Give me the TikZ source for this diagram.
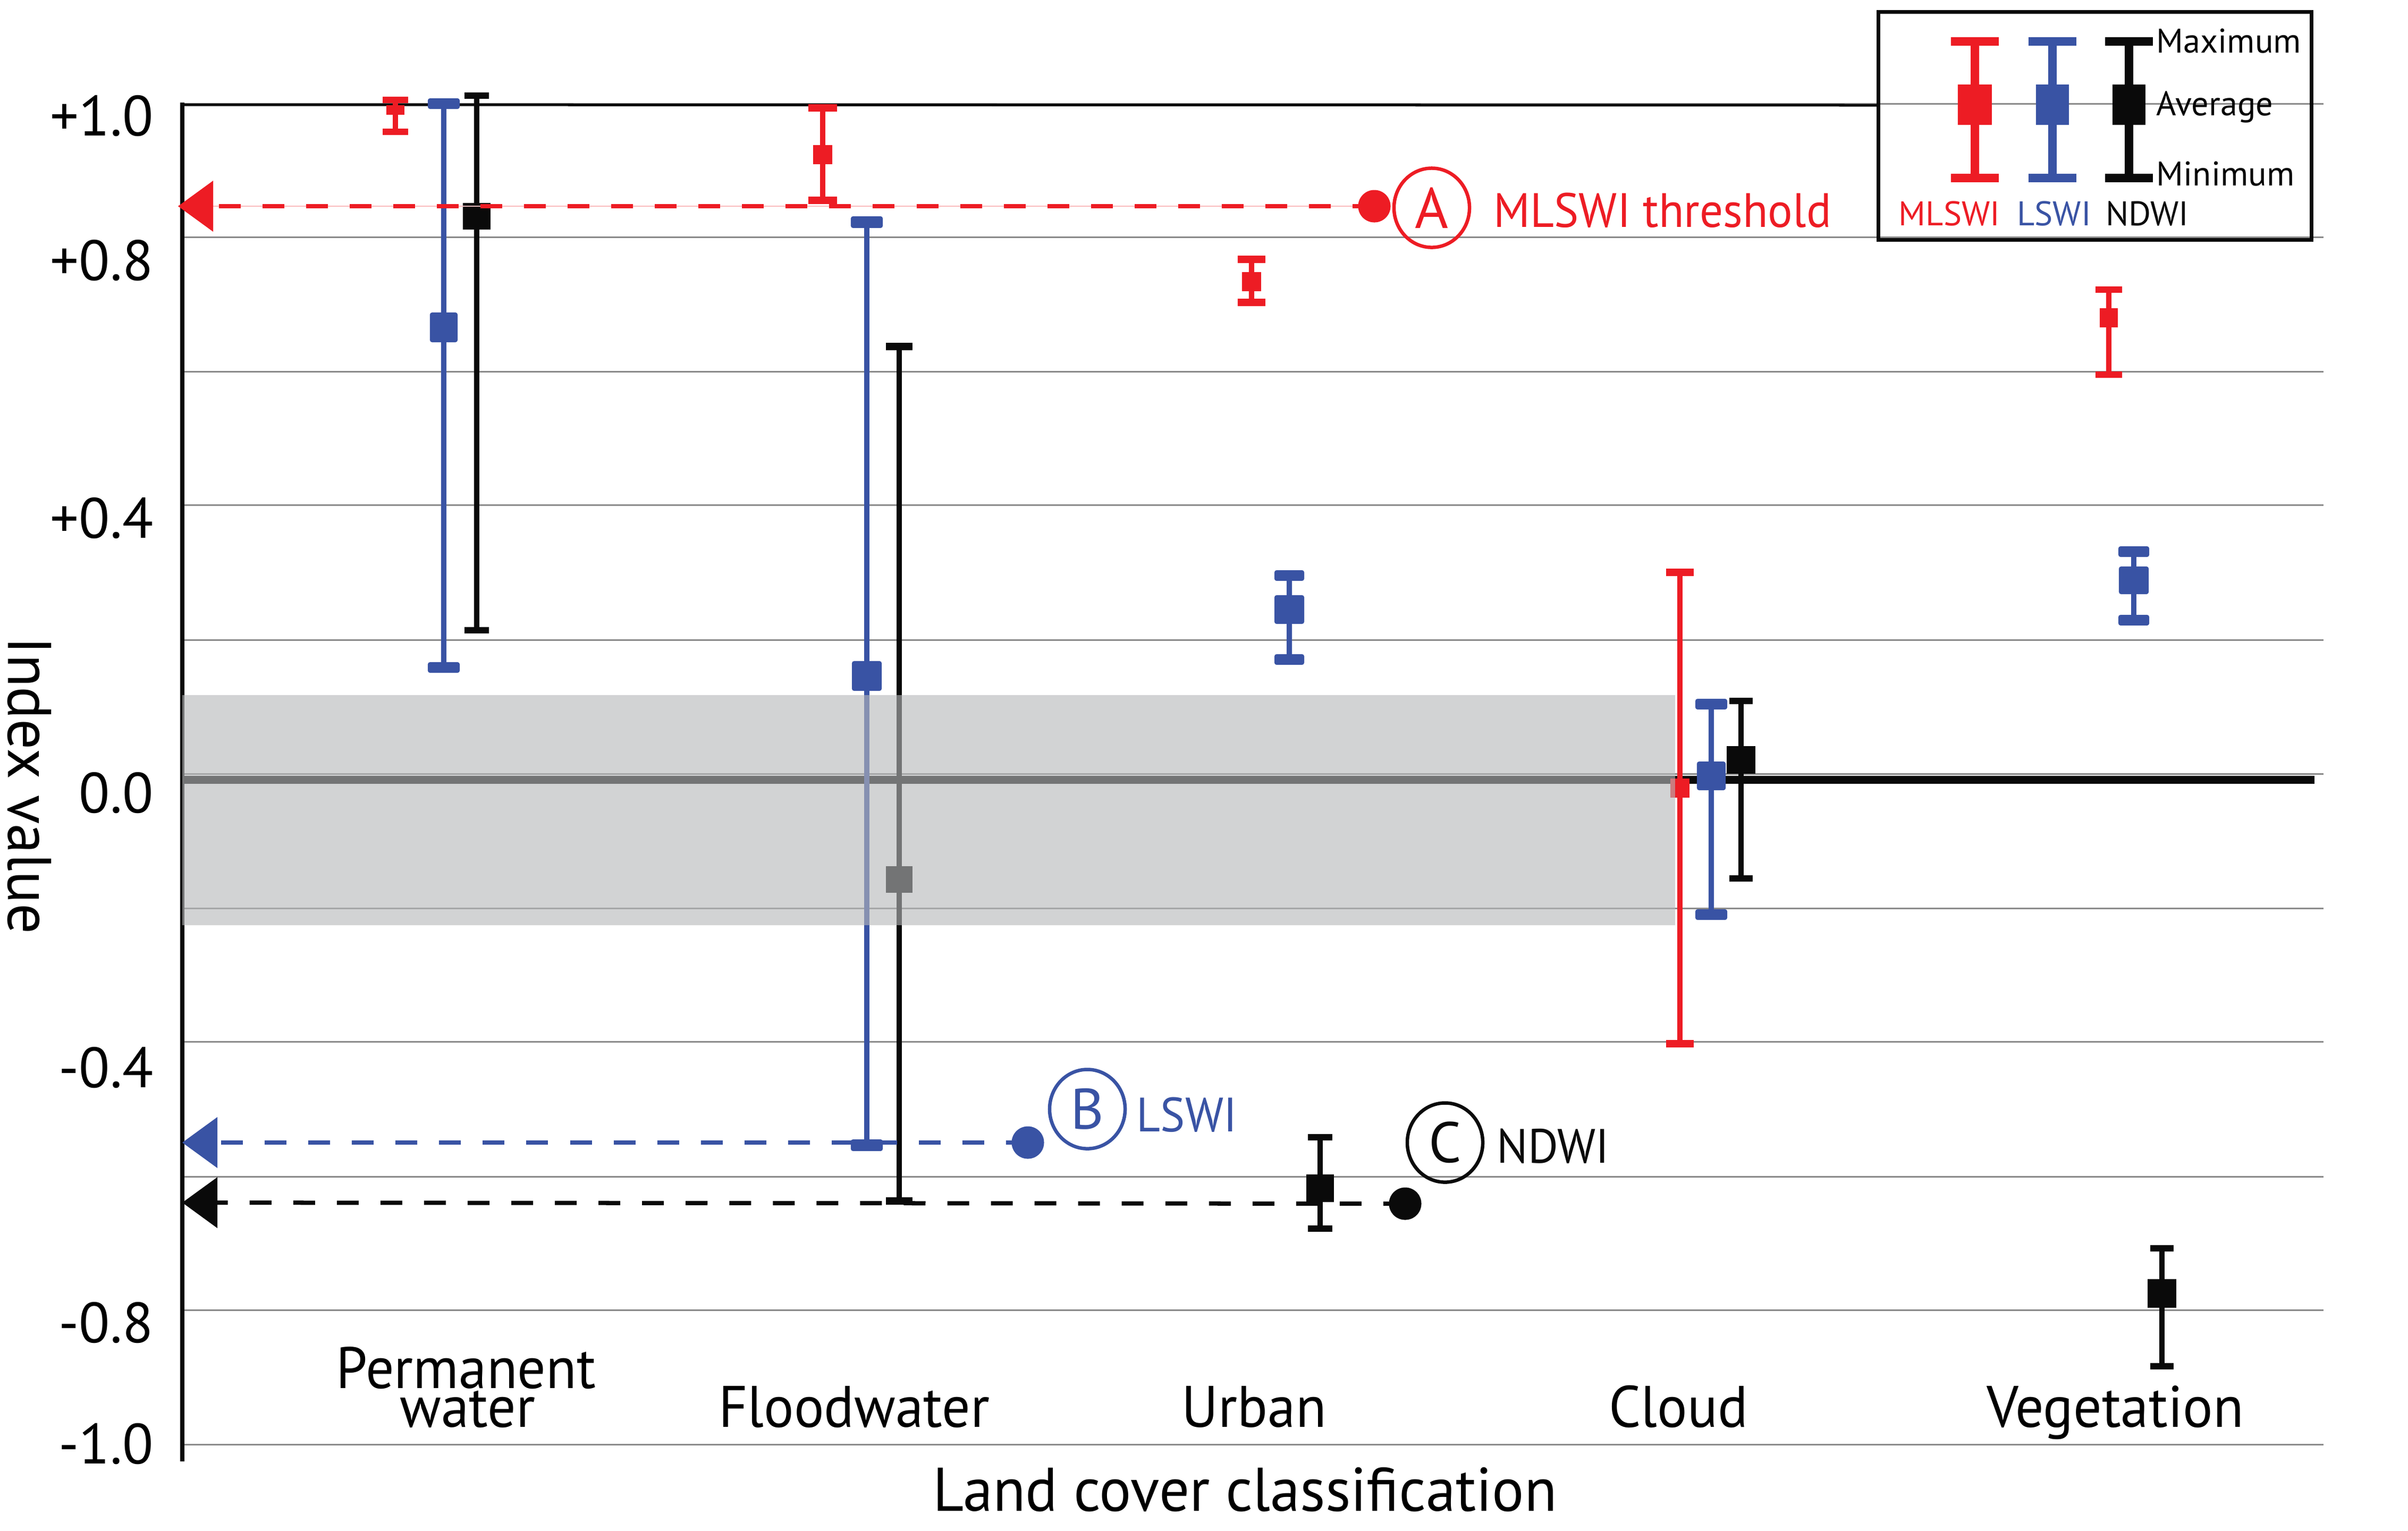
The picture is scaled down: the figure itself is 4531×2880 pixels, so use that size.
\documentclass[tikz,border=0pt]{standalone}
\usepackage{fontspec}
\setmainfont{PT Sans}
\newfontfamily\narrowfont{PT Sans}[FakeStretch=0.96]
\newfontfamily\semifont{PT Sans}[FakeStretch=0.972]
\usetikzlibrary{shapes.geometric,arrows.meta}
\definecolor{cred}{HTML}{ED1C24}
\definecolor{cblue}{HTML}{3953A4}
\definecolor{cblack}{HTML}{0A0A0A}
\definecolor{cgrid}{HTML}{8A8A8A}
\definecolor{cband}{HTML}{B7B8BA}
\newcommand{\fsz}[1]{\fontsize{#1}{#1}\selectfont}
% #1 style, #2 x, #3 ymax, #4 yavg, #5 ymin, #6 cap half width, #7 cap half thickness, #8 box half width, #9 box half height
\newcommand{\errbar}[9]{%
  \draw[line width=0.10cm,#1] (#2,#3) -- (#2,#5);
  \fill[#1] ({#2-#6},{#3-#7}) rectangle ({#2+#6},{#3+#7});
  \fill[#1] ({#2-#6},{#5-#7}) rectangle ({#2+#6},{#5+#7});
  \fill[#1] ({#2-#8},{#4-#9}) rectangle ({#2+#8},{#4+#9});
}
\begin{document}
\begin{tikzpicture}[x=0.01cm,y=-0.01cm,
  gridline/.style={draw=cgrid, line width=0.03cm},
  tick/.style={anchor=base east, inner sep=0, font=\fsz{30.4}},
  cat/.style={anchor=base, inner sep=0, font=\narrowfont\fsz{31.3}},
  rc/.style={rounded corners=0.04cm},
  dotmark/.style={circle, inner sep=0, minimum size=0.61cm},
  ring/.style={ellipse, inner sep=0, line width=0.065cm, minimum width=1.42cm, minimum height=1.49cm},
  ringletter/.style={inner sep=0, font=\fsz{30.6}},
  note/.style={anchor=base west, inner sep=0, font=\narrowfont\fsz{25.8}},
  leg/.style={inner sep=0, font=\fsz{18.3}},
  dashline/.style={line width=0.08cm, dash pattern=on 0.41cm off 0.41cm, -{Triangle[length=0.66cm,width=0.94cm]}}
]
\useasboundingbox (0,0) rectangle (4531,2880);
\fill[white] (0,0) rectangle (4531,2880);

% grid
\foreach \gy in {195,446,699,950,1204,1456,1709,1960,2214,2465,2718}
  \draw[gridline] (347,\gy) -- (4372,\gy);
\draw[cblack, line width=0.05cm] (343,197) -- (3532,198);
% zero line
\draw[cblack, line width=0.15cm] (343,1467) -- (4355,1467);
% axis
\draw[cblack, line width=0.08cm] (343,193) -- (343,2750);

% Permanent water
\errbar{cred}{744}{188}{207}{248}{24}{6}{17}{9}
\errbar{cblue,rc}{835}{195}{616}{1256}{30}{10}{26}{28}
\errbar{cblack}{897}{180}{407}{1186}{23}{6}{26}{25}
% Floodwater
\errbar{cred}{1548}{203}{291}{377}{27}{7}{18}{18}
\errbar{cblue,rc}{1631}{418}{1272}{2155}{30}{11}{28}{28}
\errbar{cblack}{1692}{652}{1655}{2260}{25}{7}{25}{25}
% Urban
\errbar{cred}{2355}{488}{530}{569}{26}{7}{18}{18}
\errbar{cblue,rc}{2426}{1083}{1147}{1241}{28}{10}{28}{27}
\errbar{cblack}{2484}{2140}{2236}{2312}{23}{6}{26}{26}
% Cloud
\errbar{cred}{3161}{1077}{1483}{1964}{26}{7}{18}{18}
\errbar{cblue,rc}{3220}{1325}{1460}{1721}{30}{10}{27}{27}
\errbar{cblack}{3276}{1319}{1430}{1653}{22}{6}{27}{26}
% Vegetation
\errbar{cred}{3968}{545}{598}{705}{25}{6}{17}{18}
\errbar{cblue,rc}{4015}{1038}{1092}{1167}{29}{10}{28}{26}
\errbar{cblack}{4068}{2349}{2434}{2571}{22}{6}{27}{27}

% band
\fill[cband, opacity=0.61] (343,1308) rectangle (3152,1741);

% annotations
\node[dotmark, fill=cred] (dA) at (2586,388) {};
\coordinate (tA) at (335,388);
\draw[cred!30, line width=0.015cm] (dA.center) -- (tA);
\draw[cred, dashline] (dA.center) -- (tA);
\node[ring, draw=cred] (cA) at (2694,391) {};
\node[ringletter, text=cred] at (cA.center) {A};
\node[note, text=cred] (nA) at (2810,427) {MLSWI threshold};

\node[dotmark, fill=cblue] (dB) at (1934,2150) {};
\coordinate (tB) at (343,2150);
\draw[cblue, dashline] (dB.center) -- (tB);
\node[ring, draw=cblue] (cB) at (2046,2087) {};
\node[ringletter, text=cblue] at (cB.center) {B};
\node[note, text=cblue] (nB) at (2138,2129) {LSWI};

\node[dotmark, fill=cblack] (dC) at (2644,2265) {};
\coordinate (tC) at (343,2263);
\draw[cblack, dashline] (dC.center) -- (tC);
\node[ring, draw=cblack] (cC) at (2719,2150) {};
\node[ringletter, text=cblack] at (cC.center) {C};
\node[note, text=cblack] (nC) at (2816,2188) {NDWI};

% tick labels
\node[tick] at (289,255) {+1.0};
\node[tick] at (289,527) {+0.8};
\node[tick] at (289,1012) {+0.4};
\node[tick] at (289,1529) {0.0};
\node[tick] at (289,2046) {-0.4};
\node[tick] at (289,2526) {-0.8};
\node[tick] at (289,2754) {-1.0};

% category labels
\node[cat] at (877,2612) {Permanent};
\node[cat] at (880,2685) {water};
\node[cat] at (1607,2685) {Floodwater};
\node[cat] at (2360,2685) {Urban};
\node[cat] at (3158,2685) {Cloud};
\node[cat] at (3980,2685) {Vegetation};
\node[anchor=base, inner sep=0, font=\semifont\fsz{33}] at (2343,2843) {Land cover classification};
\node[anchor=base, inner sep=0, font=\semifont\fsz{33}, rotate=-90] at (15,1478) {Index value};

% legend
\draw[cblack, line width=0.07cm] (3534,22) rectangle (4349,451);
\errbar{cred,line width=0.16cm}{3716}{78}{197}{335}{45}{8}{32}{38}
\errbar{cblue,line width=0.16cm}{3862}{78}{197}{335}{45}{8}{31}{38}
\errbar{cblack,line width=0.16cm}{4006}{78}{197}{335}{45}{8}{31}{38}
\node[leg, anchor=base west] at (4057,99) {Maximum};
\node[leg, anchor=base west] at (4057,217) {Average};
\node[leg, anchor=base west] at (4057,349) {Minimum};
\node[leg, anchor=base, text=cred] at (3668,424) {MLSWI};
\node[leg, anchor=base, text=cblue] at (3865,424) {LSWI};
\node[leg, anchor=base, text=cblack] at (4040,424) {NDWI};
\end{tikzpicture}
\end{document}
